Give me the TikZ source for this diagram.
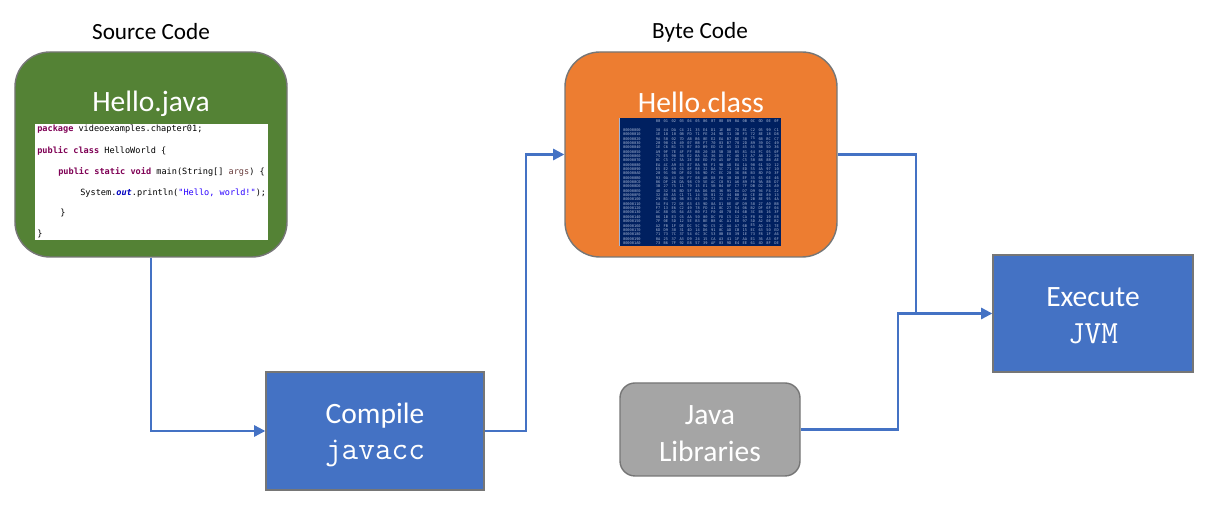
\documentclass[tikz,border=0pt]{standalone}
\usepackage{fontspec}
\setmainfont{Carlito}
\newfontfamily\codefont{DejaVu Sans Mono}
\usetikzlibrary{arrows.meta}

\definecolor{srcgreen}{RGB}{84,130,53}
\definecolor{byteorange}{RGB}{237,125,49}
\definecolor{stepblue}{RGB}{68,114,196}
\definecolor{libgray}{RGB}{165,165,165}
\definecolor{boxline}{RGB}{118,118,118}
\definecolor{hexnavy}{RGB}{0,32,96}
\definecolor{hextext}{RGB}{165,180,210}
\definecolor{kwcol}{RGB}{127,0,85}
\definecolor{fieldcol}{RGB}{0,0,192}
\definecolor{strcol}{RGB}{42,0,255}
\definecolor{argcol}{RGB}{106,62,62}

\newcommand{\kw}[1]{\textcolor{kwcol}{\textbf{#1}}}
\newcommand{\mono}[1]{{\ttfamily\fontsize{23}{26}\selectfont #1}}

\tikzset{
  box/.style={draw=boxline, line width=1pt, inner sep=0pt},
  boxtext/.style={text=white, align=center, font=\fontsize{21}{26}\selectfont},
  title/.style={font=\fontsize{16.5}{20}\selectfont},
  codeline/.style={anchor=west, inner sep=0pt, font=\codefont\fontsize{6.1}{7}\selectfont},
  hexfont/.style={inner sep=0pt, text=hextext, font=\codefont\fontsize{2.6}{3}\selectfont},
  flow/.style={draw=stepblue, line width=1.6pt},
  tip/.style={-{Triangle[length=8pt,width=8pt]}}
}

\begin{document}
\begin{tikzpicture}
  \useasboundingbox (0,0) rectangle (30.525,12.65);

  % source code
  \path (3.775,11.85) node[title] (srctitle) {Source Code};
  \node[box, fill=srcgreen, rounded corners=0.875cm, minimum width=6.8cm, minimum height=5.125cm] (src) at (3.775,8.7875) {};
  \path (3.775,10.05) node[boxtext] (srclabel) {Hello.java};
  \node[fill=white, inner sep=0pt, minimum width=5.825cm, minimum height=2.9cm] (code) at (3.7875,8.1) {};
  \path (0.925,9.425) node[codeline] {\kw{package} videoexamples.chapter01;};
  \path (0.925,8.875) node[codeline] {\kw{public} \kw{class} HelloWorld \{};
  \path (1.45,8.35) node[codeline] {\kw{public} \kw{static} \kw{void} main(String[] \textcolor{argcol}{args}) \{};
  \path (2.0,7.825) node[codeline] {System.\textcolor{fieldcol}{\textbf{\textit{out}}}.println(\textcolor{strcol}{"Hello, world!"});};
  \path (1.5,7.325) node[codeline] {\}};
  \path (0.925,6.8) node[codeline] {\}};

  % byte code
  \path (17.5,11.85) node[title] (bytetitle) {Byte Code};
  \node[box, fill=byteorange, rounded corners=0.875cm, minimum width=6.8cm, minimum height=5.125cm] (byte) at (17.525,8.7875) {};
  \path (17.525,10.1) node[boxtext] (bytelabel) {Hello.class};
  \node[fill=hexnavy, inner sep=0pt, minimum width=4.025cm, minimum height=3.2cm] (hex) at (17.5125,8.1) {};
  \draw[hextext, line width=0.6pt] (hex.north west) -- (hex.south west);
  \pgfmathsetseed{4711}
  \foreach \c in {0,...,15}{
    \pgfmathparse{Hex(\c)}\let\hc\pgfmathresult
    \path (16.45+0.1975*\c,9.625) node[hexfont] {0\hc};
  }
  \foreach \r in {0,...,26}{
    \pgfmathparse{Hex(\r)}\let\hd\pgfmathresult
    \ifnum\r<16 \edef\off{000000\hd0}\else\edef\off{00000\hd0}\fi
    \path (15.57,9.4-0.10875*\r) node[hexfont, anchor=west] {\off};
    \foreach \c in {0,...,15}{
      \pgfmathparse{Hex(random(0,15))}\let\hi\pgfmathresult
      \pgfmathparse{Hex(random(0,15))}\let\lo\pgfmathresult
      \path (16.45+0.1975*\c,9.4-0.10875*\r) node[hexfont] {\hi\lo};
    }
  }

  % compile, libraries, execute
  \node[box, fill=stepblue, minimum width=5.45cm, minimum height=2.95cm] (compile) at (9.375,1.875) {};
  \path (9.375,1.775) node[boxtext] {Compile\\\mono{javacc}};
  \node[box, fill=libgray, rounded corners=0.375cm, minimum width=4.5cm, minimum height=2.325cm] (libs) at (17.75,1.9125) {};
  \path (17.75,1.8125) node[boxtext] {Java\\Libraries};
  \node[box, fill=stepblue, minimum width=5cm, minimum height=2.925cm] (run) at (27.325,4.8125) {};
  \path (27.325,4.7625) node[boxtext] {Execute\\\mono{JVM}};

  % connectors
  \coordinate (merge) at (22.9,4.8125);
  \draw[flow, tip] (src.south) |- (compile.west);
  \draw[flow, tip] (compile.east) -- ++(1.025,0) |- (byte.west);
  \draw[flow] (byte.east) -| (merge);
  \draw[flow, tip] (libs.east) -- ++(2.425,0) |- (run.west);
\end{tikzpicture}
\end{document}
